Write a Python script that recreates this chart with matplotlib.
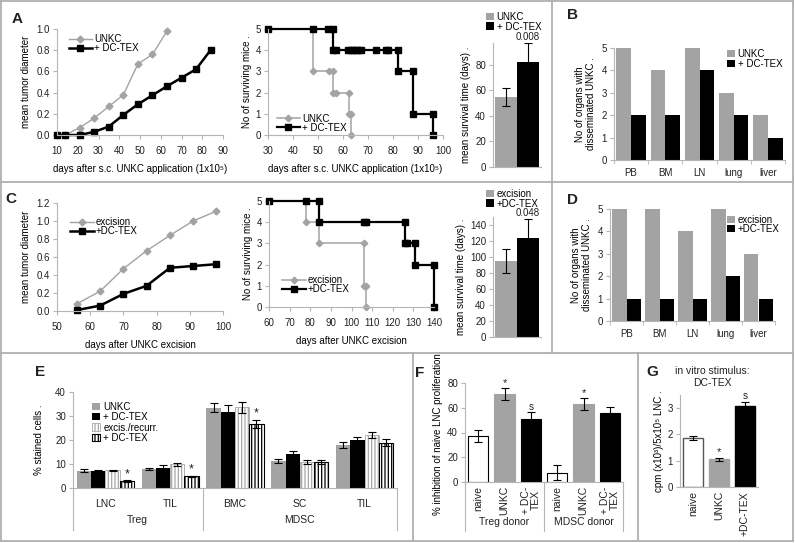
import numpy as np
import matplotlib
matplotlib.use('Agg')
import matplotlib.pyplot as plt
from matplotlib.lines import Line2D
from matplotlib.patches import Patch
from matplotlib.ticker import FormatStrFormatter

plt.rcParams['font.family'] = ['Liberation Sans', 'DejaVu Sans']
plt.rcParams['font.size'] = 7
plt.rcParams['hatch.linewidth'] = 0.9

# ---- A: tumour growth / survival after s.c. UNKC application
a_days_unkc = [14, 21, 28, 35, 42, 49, 56, 63]
a_diam_unkc = [0.0, 0.07, 0.16, 0.27, 0.38, 0.67, 0.76, 0.98]
a_days_dc = [10, 14, 21, 28, 35, 42, 49, 56, 63, 70, 77, 84]
a_diam_dc = [0.0, 0.0, 0.0, 0.03, 0.08, 0.19, 0.29, 0.375, 0.46, 0.54, 0.62, 0.80]

a_km_unkc_t = [30, 48, 56, 62.5, 63]
a_km_unkc_n = [5, 3, 2, 1, 0]
a_km_unkc_mt = [48, 54.5, 56, 56, 57, 62.5, 62.5, 63, 63]
a_km_unkc_mn = [3, 3, 3, 2, 2, 2, 1, 1, 0]
a_km_dc_t = [30, 56, 82, 88, 96]
a_km_dc_n = [5, 4, 3, 1, 0]
a_km_dc_mt = [30, 48, 54, 56, 56, 57, 62, 63, 64, 65, 66, 67, 73, 77, 78, 82, 82, 88, 88, 96, 96]
a_km_dc_mn = [5, 5, 5, 5, 4, 4, 4, 4, 4, 4, 4, 4, 4, 4, 4, 4, 3, 3, 1, 1, 0]

a_surv_mean = [55, 82]
a_surv_err = [7, 15]
a_pval = '0.008'

# ---- B / D: organs with disseminated UNKC
organs = ['PB', 'BM', 'LN', 'lung', 'liver']
b_unkc = [5, 4, 5, 3, 2]
b_dc = [2, 2, 4, 2, 1]
d_exc = [5, 5, 4, 5, 3]
d_dc = [1, 1, 1, 2, 1]

# ---- C: after UNKC excision
c_days = [56, 63, 70, 77, 84, 91, 98]
c_diam_exc = [0.08, 0.22, 0.47, 0.67, 0.84, 1.0, 1.11]
c_diam_dc = [0.01, 0.06, 0.19, 0.28, 0.48, 0.50, 0.52]

c_km_exc_t = [60, 78, 84, 106, 107]
c_km_exc_n = [5, 4, 3, 1, 0]
c_km_exc_mt = [78, 84, 106, 106, 107, 107]
c_km_exc_mn = [4, 3, 3, 1, 1, 0]
c_km_dc_t = [60, 84, 126, 131, 140]
c_km_dc_n = [5, 4, 3, 2, 0]
c_km_dc_mt = [60, 78, 84, 84, 106, 107, 126, 126, 127, 131, 131, 140, 140]
c_km_dc_mn = [5, 5, 5, 4, 4, 4, 4, 3, 3, 3, 2, 2, 0]

c_surv_mean = [95, 124]
c_surv_err = [15, 23]
c_pval = '0.048'

# ---- E: % stained cells
e_cells = ['LNC', 'TIL', 'BMC', 'SC', 'TIL']
e_groups = ['Treg', 'MDSC']
e_unkc = [7.2, 7.8, 33.5, 11.1, 17.8]
e_unkc_err = [0.6, 0.5, 1.8, 0.8, 1.2]
e_dc = [7.0, 8.5, 31.8, 14.3, 19.8]
e_dc_err = [0.4, 0.9, 2.6, 1.0, 1.4]
e_exc = [7.3, 9.8, 33.7, 10.8, 22.1]
e_exc_err = [0.4, 0.6, 2.3, 0.8, 1.2]
e_exc_dc = [2.9, 4.9, 26.7, 11.0, 18.9]
e_exc_dc_err = [0.4, 0.3, 1.8, 0.8, 1.6]
e_stars = ['*', '*', '*', '', '']

# ---- F: % inhibition of naive LNC proliferation
f_labels = ['naive', 'UNKC', '+ DC-\nTEX', 'naive', 'UNKC', '+ DC-\nTEX']
f_groups = ['Treg donor', 'MDSC donor']
f_vals = [37, 71, 51, 7.5, 63, 56]
f_err = [5, 5, 5.5, 6, 5, 5]
f_marks = ['', '*', 's', '', '*', '']

# ---- G: in vitro stimulus DC-TEX
g_labels = ['naive', 'UNKC', '+DC-TEX']
g_vals = [1.85, 1.05, 3.1]
g_err = [0.08, 0.05, 0.13]
g_marks = ['', '*', 's']

W, H = 795, 543
fig = plt.figure(figsize=(W / 100, H / 100), dpi=100)

AX = '#b5b5b5'
GREY = '#a3a3a3'
TXT = '#222222'
ERR = dict(ecolor='black', capsize=3, elinewidth=0.8, capthick=0.8)


def add_ax(left, right, top, bottom):
    return fig.add_axes([left / W, 1 - bottom / H, (right - left) / W, (bottom - top) / H])


def style(ax):
    for s in ('top', 'right'):
        ax.spines[s].set_visible(False)
    for s in ('left', 'bottom'):
        ax.spines[s].set_color(AX)
        ax.spines[s].set_linewidth(0.8)
    ax.tick_params(color=AX, labelcolor=TXT, labelsize=7, length=3, width=0.8, pad=2)


def line_legend(ax, loc, anchor):
    ax.legend(loc=loc, bbox_to_anchor=anchor, frameon=False, fontsize=7,
              handlelength=2.4, handletextpad=0.2, labelspacing=-0.1, borderpad=0,
              borderaxespad=0)


def growth(ax, x1, y1, x2, y2, lab1, lab2):
    ax.plot(x1, y1, color=GREY, lw=1, marker='D', ms=3.5, label=lab1, clip_on=False)
    ax.plot(x2, y2, color='black', lw=1.8, marker='s', ms=4, label=lab2, clip_on=False)
    ax.yaxis.set_major_formatter(FormatStrFormatter('%.1f'))
    ax.tick_params(axis='x', pad=5)


def km(ax, t1, n1, mt1, mn1, t2, n2, mt2, mn2, lab1, lab2):
    ax.step(t1, n1, where='post', color=GREY, lw=1.1, clip_on=False)
    ax.plot(mt1, mn1, ls='none', marker='D', ms=3.3, color=GREY, clip_on=False)
    ax.step(t2, n2, where='post', color='black', lw=1.6, clip_on=False)
    ax.plot(mt2, mn2, ls='none', marker='s', ms=3.8, color='black', clip_on=False)
    ax.plot([], [], color=GREY, lw=1.1, marker='D', ms=3.3, label=lab1)
    ax.plot([], [], color='black', lw=1.6, marker='s', ms=3.8, label=lab2)
    ax.set_ylim(0, 5)
    ax.set_yticks(range(0, 6))
    ax.tick_params(axis='x', pad=5)
    ax.set_ylabel('No of surviving mice .', labelpad=3)


def surv_bar(ax, mean, err, pval, ymax, labels, legend_xy):
    ax.bar([0, 1], mean, width=1.0, color=[GREY, 'black'], yerr=err, error_kw=ERR)
    ax.set_xlim(-0.6, 1.6)
    ax.set_ylim(0, ymax)
    ax.set_xticks([])
    ax.annotate(pval, (1, mean[1] + err[1]), xytext=(0, 1), textcoords='offset points',
                ha='center', va='bottom', fontsize=7, color=TXT, annotation_clip=False)
    ax.set_ylabel('mean survival time (days) .', labelpad=3)
    handles = [Patch(facecolor=GREY), Patch(facecolor='black')]
    fig.legend(handles, labels, loc='upper left', bbox_to_anchor=legend_xy, frameon=False,
               fontsize=7, handlelength=0.8, handleheight=0.8, handletextpad=0.3,
               labelspacing=-0.05, borderpad=0, borderaxespad=0)


def organ_bar(ax, v1, v2, lab1, lab2, anchor):
    x = np.arange(len(organs))
    ax.bar(x - 0.215, v1, width=0.43, color=GREY, label=lab1)
    ax.bar(x + 0.215, v2, width=0.43, color='black', label=lab2)
    ax.set_xlim(-0.5, len(organs) - 0.5)
    ax.set_ylim(0, 5)
    ax.set_xticks(x)
    ax.set_xticklabels(organs)
    ax.set_xticks(np.arange(-0.5, len(organs)), minor=True)
    ax.tick_params(axis='x', which='major', length=0, pad=6)
    ax.tick_params(axis='x', which='minor', length=3, color=AX)
    ax.set_ylabel('No of organs with\ndisseminated UNKC .', labelpad=4, linespacing=1.1)
    ax.legend(loc='upper left', bbox_to_anchor=anchor, frameon=False, fontsize=7,
              handlelength=0.8, handleheight=0.8, handletextpad=0.3, labelspacing=-0.05,
              borderpad=0, borderaxespad=0)


# ---------------- A
ax = add_ax(57, 223, 29, 135)
style(ax)
growth(ax, a_days_unkc, a_diam_unkc, a_days_dc, a_diam_dc, 'UNKC', '+ DC-TEX')
ax.set_xlim(10, 90)
ax.set_ylim(0, 1.0)
ax.set_xticks(range(10, 91, 10))
ax.set_yticks(np.arange(0, 1.01, 0.2))
ax.set_xlabel('days after s.c. UNKC application (1x10⁵)', labelpad=6)
ax.set_ylabel('mean tumor diameter', labelpad=4)
line_legend(ax, 'upper left', (0.07, 0.95))

ax = add_ax(268, 443, 29, 135)
style(ax)
km(ax, a_km_unkc_t, a_km_unkc_n, a_km_unkc_mt, a_km_unkc_mn,
   a_km_dc_t, a_km_dc_n, a_km_dc_mt, a_km_dc_mn, 'UNKC', '+ DC-TEX')
ax.set_xlim(30, 100)
ax.set_xticks(range(30, 101, 10))
ax.set_xlabel('days after s.c. UNKC application (1x10⁵)', labelpad=6)
line_legend(ax, 'lower left', (0.05, 0.02))

ax = add_ax(493, 541, 43, 167)
style(ax)
surv_bar(ax, a_surv_mean, a_surv_err, a_pval, 97, ['UNKC', '+ DC-TEX'], (486 / W, 1 - 12 / H))
ax.set_yticks(range(0, 81, 20))

# ---------------- B
ax = add_ax(614, 785, 48, 160)
style(ax)
organ_bar(ax, b_unkc, b_dc, 'UNKC', '+ DC-TEX', (0.66, 0.99))

# ---------------- C
ax = add_ax(57, 223, 203, 311)
style(ax)
growth(ax, c_days, c_diam_exc, c_days, c_diam_dc, 'excision', '+DC-TEX')
ax.set_xlim(50, 100)
ax.set_ylim(0, 1.2)
ax.set_xticks(range(50, 101, 10))
ax.set_yticks(np.arange(0, 1.21, 0.2))
ax.set_xlabel('days after UNKC excision', labelpad=6)
ax.set_ylabel('mean tumor diameter', labelpad=4)
line_legend(ax, 'upper left', (0.08, 0.87))

ax = add_ax(269, 434, 201, 307)
style(ax)
km(ax, c_km_exc_t, c_km_exc_n, c_km_exc_mt, c_km_exc_mn,
   c_km_dc_t, c_km_dc_n, c_km_dc_mt, c_km_dc_mn, 'excision', '+DC-TEX')
ax.set_xlim(60, 140)
ax.set_xticks(range(60, 141, 10))
ax.set_xlabel('days after UNKC excision', labelpad=6)
line_legend(ax, 'lower left', (0.08, 0.12))

ax = add_ax(493, 541, 217, 337)
style(ax)
surv_bar(ax, c_surv_mean, c_surv_err, c_pval, 150, ['excision', '+DC-TEX'], (486 / W, 1 - 189 / H))
ax.set_yticks(range(0, 141, 20))

# ---------------- D
ax = add_ax(610, 775, 209, 321)
style(ax)
organ_bar(ax, d_exc, d_dc, 'excision', '+DC-TEX', (0.71, 0.95))

# ---------------- E
ax = add_ax(73, 397, 392, 488)
style(ax)
x = np.arange(len(e_cells))
bw = 0.22
ax.bar(x - 1.5 * bw, e_unkc, bw, color=GREY, yerr=e_unkc_err, error_kw=ERR, label='UNKC')
ax.bar(x - 0.5 * bw, e_dc, bw, color='black', yerr=e_dc_err, error_kw=ERR, label='+ DC-TEX')
ax.bar(x + 0.5 * bw, e_exc, bw, color='white', edgecolor='#a8a8a8', hatch='|||||', lw=0.6,
       yerr=e_exc_err, error_kw=ERR, label='excis./recurr.')
ax.bar(x + 1.5 * bw, e_exc_dc, bw, color='white', edgecolor='black', hatch='|||||', lw=0.8,
       yerr=e_exc_dc_err, error_kw=ERR, label='+ DC-TEX')
for xi, v, e, s in zip(x, e_exc_dc, e_exc_dc_err, e_stars):
    if s:
        ax.annotate(s, (xi + 1.5 * bw, v + e), xytext=(0, 0), textcoords='offset points',
                    ha='center', va='bottom', fontsize=9, color=TXT)
ax.set_xlim(-0.5, len(e_cells) - 0.5)
ax.set_ylim(0, 40)
ax.set_yticks(range(0, 41, 10))
ax.set_xticks(x)
ax.set_xticklabels(e_cells, fontsize=7.5)
ax.tick_params(axis='x', length=0, pad=8)
ax.set_ylabel('% stained cells .', labelpad=8)
tr = ax.get_xaxis_transform()
for xs in (-0.5, 1.5, len(e_cells) - 0.5):
    ax.plot([xs, xs], [0, -0.44], transform=tr, clip_on=False, color=AX, lw=0.8)
for gx, g in zip((0.5, 3), e_groups):
    ax.text(gx, -0.335, g, transform=tr, ha='center', va='center', fontsize=7.5, color=TXT)
ax.legend(loc='upper left', bbox_to_anchor=(0.06, 0.9), frameon=False, fontsize=7,
          handlelength=0.8, handleheight=0.8, handletextpad=0.3, labelspacing=0.05,
          borderpad=0, borderaxespad=0)

# ---------------- F
ax = add_ax(465, 623, 383, 482)
style(ax)
xf = np.arange(len(f_vals))
f_cols = ['white', GREY, 'black'] * 2
ax.bar(xf, f_vals, 0.77, color=f_cols, edgecolor=['black', GREY, 'black'] * 2, lw=0.8,
       yerr=f_err, error_kw=ERR)
for xi, v, e, s in zip(xf, f_vals, f_err, f_marks):
    if s:
        ax.annotate(s, (xi, v + e), xytext=(0, 0), textcoords='offset points',
                    ha='center', va='bottom', fontsize=8 if s == '*' else 7, color=TXT)
ax.set_xlim(-0.5, len(f_vals) - 0.5)
ax.set_ylim(0, 80)
ax.set_yticks(range(0, 81, 20))
ax.set_xticks(xf)
ax.set_xticklabels(f_labels, rotation=90, fontsize=7.5, linespacing=1.0)
ax.tick_params(axis='x', length=0, pad=3)
ax.set_ylabel('% inhibition of naive LNC proliferation.', labelpad=3)
tr = ax.get_xaxis_transform()
for xs in (-0.5, 2.5, len(f_vals) - 0.5):
    ax.plot([xs, xs], [0, -0.49], transform=tr, clip_on=False, color=AX, lw=0.8)
for gx, g in zip((1, 4), f_groups):
    ax.text(gx, -0.4, g, transform=tr, ha='center', va='center', fontsize=7.5, color=TXT)

# ---------------- G
ax = add_ax(680, 758, 395, 487)
style(ax)
xg = np.arange(len(g_vals))
ax.bar(xg, g_vals, 0.77, color=['white', GREY, 'black'], edgecolor=['#555555', GREY, 'black'],
       lw=1.0, yerr=g_err, error_kw=ERR)
for xi, v, e, s in zip(xg, g_vals, g_err, g_marks):
    if s:
        ax.annotate(s, (xi, v + e), xytext=(0, 1), textcoords='offset points',
                    ha='center', va='bottom', fontsize=8 if s == '*' else 7, color=TXT,
                    annotation_clip=False)
ax.set_xlim(-0.5, len(g_vals) - 0.5)
ax.set_ylim(0, 3.5)
ax.set_yticks(range(0, 4))
ax.set_xticks(xg)
ax.set_xticklabels(g_labels, rotation=90, fontsize=7.5)
ax.tick_params(axis='x', length=0, pad=3)
ax.set_ylabel('cpm (x10³)/5x10⁵ LNC .', labelpad=3)
fig.text(712 / W, 1 - 377 / H, 'in vitro stimulus:\nDC-TEX', ha='center', va='center',
         fontsize=7.5, color=TXT, linespacing=1.15)

# ---------------- panel letters and frames
for lab, (px, py) in {'A': (17, 19), 'B': (573, 15), 'C': (11, 199), 'D': (572, 200),
                      'E': (40, 372), 'F': (420, 373), 'G': (652, 372)}.items():
    fig.text(px / W, 1 - py / H, lab, fontsize=11, fontweight='bold', ha='center',
             va='center', color=TXT)

frame = [((1, 1), (793, 1)), ((1, 541), (793, 541)), ((1, 1), (1, 541)), ((793, 1), (793, 541)),
         ((1, 182), (793, 182)), ((1, 353), (793, 353)), ((552, 1), (552, 353)),
         ((413, 353), (413, 541)), ((638, 353), (638, 541))]
for (x0, y0), (x1, y1) in frame:
    fig.add_artist(Line2D([x0 / W, x1 / W], [1 - y0 / H, 1 - y1 / H], transform=fig.transFigure,
                          color='#b0b0b0', lw=1.3))

fig.savefig('out.png', dpi=100)
